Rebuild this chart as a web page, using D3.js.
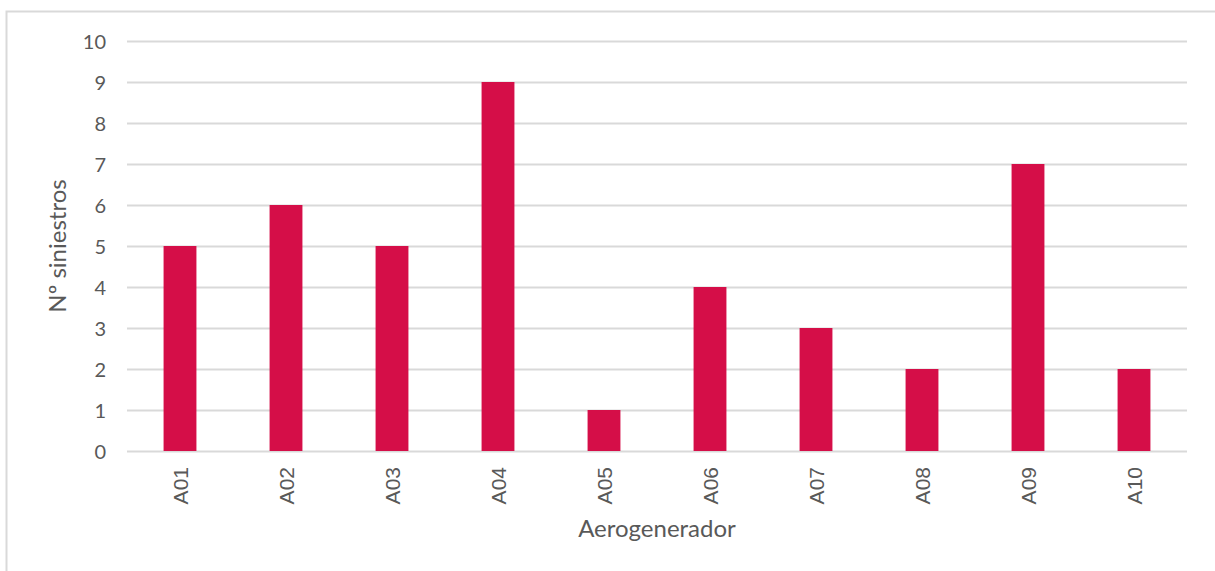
<!DOCTYPE html>
<html>
<head>
<meta charset="utf-8">
<script src="https://cdn.jsdelivr.net/npm/d3@7"></script>
<style>
  body { margin: 0; background: #fff; }
  text { font-family: Lato, "Open Sans", sans-serif; fill: #595959; }
</style>
</head>
<body>
<div id="chart"></div>
<script>
// data
var categories = ["A01", "A02", "A03", "A04", "A05", "A06", "A07", "A08", "A09", "A10"];
var values = [5, 6, 5, 9, 1, 4, 3, 2, 7, 2];
var yTicks = [0, 1, 2, 3, 4, 5, 6, 7, 8, 9, 10];

var svgWidth = 1215;
var svgHeight = 571;

var margin = { top: 41, right: 28, bottom: 120, left: 127 };
var width = 1187 - margin.left;
var height = 451 - margin.top;

var svg = d3.select("#chart")
  .append("svg")
  .attr("width", svgWidth)
  .attr("height", svgHeight);

// outer frame
svg.append("rect")
  .attr("x", 6.5)
  .attr("y", 11.5)
  .attr("width", svgWidth)
  .attr("height", svgHeight)
  .attr("fill", "none")
  .attr("stroke", "#d9d9d9")
  .attr("stroke-width", 2);

var chartGroup = svg.append("g")
  .attr("transform", `translate(${margin.left}, ${margin.top})`);

var xScale = d3.scaleBand()
  .domain(categories)
  .range([0, width])
  .paddingInner(0.69)
  .paddingOuter(0.345);

var yScale = d3.scaleLinear()
  .domain([0, 10])
  .range([height, 0]);

// gridlines
chartGroup.append("g")
  .selectAll("line")
  .data(yTicks)
  .enter()
  .append("line")
  .attr("x1", 0)
  .attr("x2", width)
  .attr("y1", d => yScale(d) + 0.5)
  .attr("y2", d => yScale(d) + 0.5)
  .attr("stroke", "#d9d9d9")
  .attr("stroke-width", 2);

// bars
chartGroup.selectAll("rect.bar")
  .data(values)
  .enter()
  .append("rect")
  .attr("class", "bar")
  .attr("x", (d, i) => xScale(categories[i]))
  .attr("y", d => yScale(d))
  .attr("width", xScale.bandwidth())
  .attr("height", d => height - yScale(d))
  .attr("fill", "#d50e48");

// y axis
var leftAxis = d3.axisLeft(yScale).tickValues(yTicks).tickSize(0).tickPadding(21);
var yAxis = chartGroup.append("g").call(leftAxis);
yAxis.select(".domain").remove();
yAxis.selectAll("text")
  .style("font-size", "20px")
  .attr("dy", "0.36em");

// x axis
var bottomAxis = d3.axisBottom(xScale).tickSize(0);
var xAxis = chartGroup.append("g")
  .attr("transform", `translate(0, ${height})`)
  .call(bottomAxis);
xAxis.select(".domain").remove();
xAxis.selectAll("text")
  .attr("transform", "rotate(-90)")
  .attr("text-anchor", "end")
  .attr("x", -16)
  .attr("y", 0)
  .attr("dy", "0.36em")
  .style("font-family", "'Liberation Sans', Arial, sans-serif")
  .style("font-size", "21px");

// axis titles
svg.append("text")
  .attr("x", margin.left + width / 2)
  .attr("y", 537)
  .attr("text-anchor", "middle")
  .style("font-size", "24px")
  .text("Aerogenerador");

svg.append("text")
  .attr("transform", "rotate(-90)")
  .attr("x", -246)
  .attr("y", 66)
  .attr("text-anchor", "middle")
  .style("font-size", "24px")
  .text("Nº siniestros");
</script>
</body>
</html>
